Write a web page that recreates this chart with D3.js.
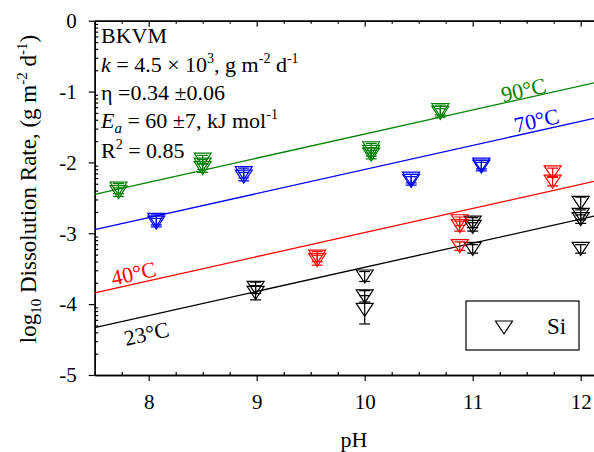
<!DOCTYPE html>
<html>
<head>
<meta charset="utf-8">
<script src="https://cdn.jsdelivr.net/npm/d3@7"></script>
<style>
body { margin: 0; background: #fff; }
text { font-family: "Liberation Serif", "Times New Roman", serif; fill: #000; }
</style>
</head>
<body>
<script>
// values (pH, log10 rate, error)
var ph90 = [7.72, 7.72, 8.50, 8.50, 8.50, 10.06, 10.06, 10.06, 10.70, 10.70];
var log90 = [-2.37, -2.42, -1.96, -2.03, -2.08, -1.80, -1.85, -1.89, -1.26, -1.30];
var err90 = [0.07, 0.06, 0.06, 0.07, 0.06, 0.07, 0.06, 0.06, 0.07, 0.06];

var ph70 = [8.07, 8.07, 8.88, 8.88, 10.43, 10.43, 11.08, 11.08];
var log70 = [-2.81, -2.85, -2.15, -2.20, -2.23, -2.26, -2.03, -2.06];
var err70 = [0.07, 0.06, 0.07, 0.06, 0.06, 0.06, 0.06, 0.06];

var ph40 = [9.56, 9.56, 10.88, 10.88, 10.88, 11.74, 11.74];
var log40 = [-3.33, -3.38, -2.83, -2.90, -3.18, -2.14, -2.27];
var err40 = [0.07, 0.07, 0.06, 0.07, 0.06, 0.06, 0.06];

var ph23 = [8.99, 8.99, 10.0, 10.0, 10.0, 11.0, 11.0, 11.0, 12.0, 12.0, 12.0, 12.0];
var log23 = [-3.77, -3.84, -3.61, -3.89, -4.08, -2.85, -2.91, -3.22, -2.57, -2.74, -2.80, -3.22];
var err23 = [0.08, 0.10, 0.07, 0.08, 0.20, 0.07, 0.06, 0.06, 0.08, 0.07, 0.06, 0.06];

// fitted lines, value at both ends of the pH range
var fitPH = [7.5, 12.5];
var fit90 = [-2.45, -0.75];
var fit70 = [-2.95, -1.25];
var fit40 = [-3.84, -2.14];
var fit23 = [-4.33, -2.63];

var tempLabels = ["23°C", "40°C", "70°C", "90°C"];
// where each temperature label sits (pH, log rate)
var labelPH = [7.79, 7.67, 11.40, 11.28];
var labelLog = [-4.59, -3.74, -1.58, -1.15];

var xMajor = [8, 9, 10, 11, 12];
var yMajor = [-5, -4, -3, -2, -1, 0];

var W = 594, H = 452;
var colors = ["#000000", "#ff0000", "#0000ff", "#008000"];

var series = [
	{ph: ph23, v: log23, e: err23, fit: fit23},
	{ph: ph40, v: log40, e: err40, fit: fit40},
	{ph: ph70, v: log70, e: err70, fit: fit70},
	{ph: ph90, v: log90, e: err90, fit: fit90}
];

var x = d3.scaleLinear().domain([7.5, 12.5]).range([94.7, 634.7]);
var y = d3.scaleLinear().domain([-5, 0]).range([375, 20.7]);

var svg = d3.select("body").append("svg")
	.attr("width", W)
	.attr("height", H);

// minor ticks: quarter pH, log spacing on y
var xMinor = d3.range(7.5, 12.51, 0.25).filter(function(d) { return d % 1 !== 0; });
var yMinor = [];
yMajor.forEach(function(n) {
	if (n === 0) return;
	d3.range(2, 10).forEach(function(k) { yMinor.push(n + 1 + Math.log10(k / 10)); });
});

function styleAxis(g) {
	g.select(".domain").attr("stroke", "#000").attr("stroke-width", 1.4);
	g.selectAll(".tick line").attr("stroke", "#000").attr("stroke-width", 1.2);
	g.selectAll(".tick text").style("font-size", "21px").attr("fill", "#000");
}

var fmt = function(d) { return String(d); };

// bottom
svg.append("g").attr("transform", "translate(0," + y(-5) + ")")
	.call(d3.axisBottom(x).tickValues(xMajor).tickFormat(fmt).tickSize(6).tickSizeOuter(0).tickPadding(13))
	.call(styleAxis);
svg.append("g").attr("transform", "translate(0," + y(-5) + ")")
	.call(d3.axisBottom(x).tickValues(xMinor).tickFormat("").tickSize(-3).tickSizeOuter(0))
	.call(styleAxis);
// top
svg.append("g").attr("transform", "translate(0," + y(0) + ")")
	.call(d3.axisTop(x).tickValues(xMajor).tickFormat("").tickSize(-6).tickSizeOuter(0))
	.call(styleAxis);
svg.append("g").attr("transform", "translate(0," + y(0) + ")")
	.call(d3.axisTop(x).tickValues(xMinor).tickFormat("").tickSize(-3).tickSizeOuter(0))
	.call(styleAxis);
// left
svg.append("g").attr("transform", "translate(" + x(7.5) + ",0)")
	.call(d3.axisLeft(y).tickValues(yMajor).tickFormat(fmt).tickSize(6).tickSizeOuter(0).tickPadding(12))
	.call(styleAxis);
svg.append("g").attr("transform", "translate(" + x(7.5) + ",0)")
	.call(d3.axisLeft(y).tickValues(yMinor).tickFormat("").tickSize(-3.5).tickSizeOuter(0))
	.call(styleAxis);

// axis titles
svg.append("text")
	.attr("x", 354).attr("y", 447)
	.attr("text-anchor", "middle")
	.style("font-size", "22px")
	.text("pH");

var yl = svg.append("text")
	.attr("transform", "translate(36,189) rotate(-90)")
	.attr("text-anchor", "middle")
	.style("font-size", "23px");
yl.append("tspan").text("log");
yl.append("tspan").attr("dy", 5).style("font-size", "15px").text("10");
yl.append("tspan").attr("dy", -5).text(" Dissolution Rate, (g m");
yl.append("tspan").attr("dy", -9).style("font-size", "15px").text("-2");
yl.append("tspan").attr("dy", 9).text(" d");
yl.append("tspan").attr("dy", -9).style("font-size", "15px").text("-1");
yl.append("tspan").attr("dy", 9).text(")");

// plot clip
svg.append("clipPath").attr("id", "clip")
	.append("rect")
	.attr("x", x(7.5)).attr("y", y(0))
	.attr("width", x(12.5) - x(7.5)).attr("height", y(-5) - y(0));

var plot = svg.append("g").attr("clip-path", "url(#clip)");

var line = d3.line()
	.x(function(d) { return x(d[0]); })
	.y(function(d) { return y(d[1]); });

series.forEach(function(s, i) {
	plot.append("path")
		.datum(fitPH.map(function(p, j) { return [p, s.fit[j]]; }))
		.attr("d", line)
		.attr("fill", "none")
		.attr("stroke", colors[i])
		.attr("stroke-width", 1.3);
});

// temperature labels along the lines
var ang = Math.atan2(y(fit23[0]) - y(fit23[1]), x(fitPH[1]) - x(fitPH[0])) * 180 / Math.PI;
tempLabels.forEach(function(t, i) {
	svg.append("text")
		.attr("transform", "translate(" + x(labelPH[i]) + "," + y(labelLog[i]) + ") rotate(" + (-ang) + ")")
		.style("font-size", "22px")
		.style("fill", colors[i])
		.text(t);
});

// markers: downward triangles with error bars
var tri = "M-8.5,-6.5L8.5,-6.5L0,6.5Z";
series.forEach(function(s, i) {
	var pts = s.ph.map(function(p, j) { return {ph: p, v: s.v[j], e: s.e[j]}; });
	var g = plot.append("g").attr("stroke", colors[i]).attr("stroke-width", 1.2).attr("fill", "none");
	var pt = g.selectAll("g").data(pts).enter().append("g")
		.attr("transform", function(d) { return "translate(" + x(d.ph) + "," + y(d.v) + ")"; });
	pt.append("path").attr("d", tri);
	pt.append("line")
		.attr("x1", 0).attr("x2", 0)
		.attr("y1", function(d) { return y(d.v + d.e) - y(d.v); })
		.attr("y2", function(d) { return y(d.v - d.e) - y(d.v); });
	pt.append("line")
		.attr("x1", -5.5).attr("x2", 5.5)
		.attr("y1", function(d) { return y(d.v + d.e) - y(d.v); })
		.attr("y2", function(d) { return y(d.v + d.e) - y(d.v); });
	pt.append("line")
		.attr("x1", -5.5).attr("x2", 5.5)
		.attr("y1", function(d) { return y(d.v - d.e) - y(d.v); })
		.attr("y2", function(d) { return y(d.v - d.e) - y(d.v); });
});

// fit parameters block
var info = svg.append("g").style("font-size", "22px");
info.append("text").attr("x", 101).attr("y", 43).text("BKVM");

var t2 = info.append("text").attr("x", 101).attr("y", 72);
t2.append("tspan").style("font-style", "italic").text("k");
t2.append("tspan").text(" = 4.5 × 10");
t2.append("tspan").attr("dy", -9).style("font-size", "14px").text("3");
t2.append("tspan").attr("dy", 9).text(", g m");
t2.append("tspan").attr("dy", -9).style("font-size", "14px").text("-2");
t2.append("tspan").attr("dy", 9).text(" d");
t2.append("tspan").attr("dy", -9).style("font-size", "14px").text("-1");

info.append("text").attr("x", 101).attr("y", 100).text("η =0.34 ±0.06");

var t4 = info.append("text").attr("x", 101).attr("y", 128);
t4.append("tspan").style("font-style", "italic").text("E");
t4.append("tspan").attr("dy", 5).style("font-size", "15px").style("font-style", "italic").text("a");
t4.append("tspan").attr("dy", -5).text(" = 60 ±7, kJ mol");
t4.append("tspan").attr("dy", -9).style("font-size", "14px").text("-1");

var t5 = info.append("text").attr("x", 101).attr("y", 158);
t5.append("tspan").text("R");
t5.append("tspan").attr("dy", -9).style("font-size", "14px").text("2");
t5.append("tspan").attr("dy", 9).text(" = 0.85");

// legend
var lg = svg.append("g");
lg.append("rect")
	.attr("x", 466).attr("y", 301).attr("width", 113).attr("height", 49)
	.attr("fill", "#fff").attr("stroke", "#000").attr("stroke-width", 1.2);
lg.append("path").attr("d", tri)
	.attr("transform", "translate(504,327.5)")
	.attr("fill", "none").attr("stroke", "#000").attr("stroke-width", 1.2);
lg.append("text").attr("x", 547).attr("y", 334).style("font-size", "23px").text("Si");
</script>
</body>
</html>
